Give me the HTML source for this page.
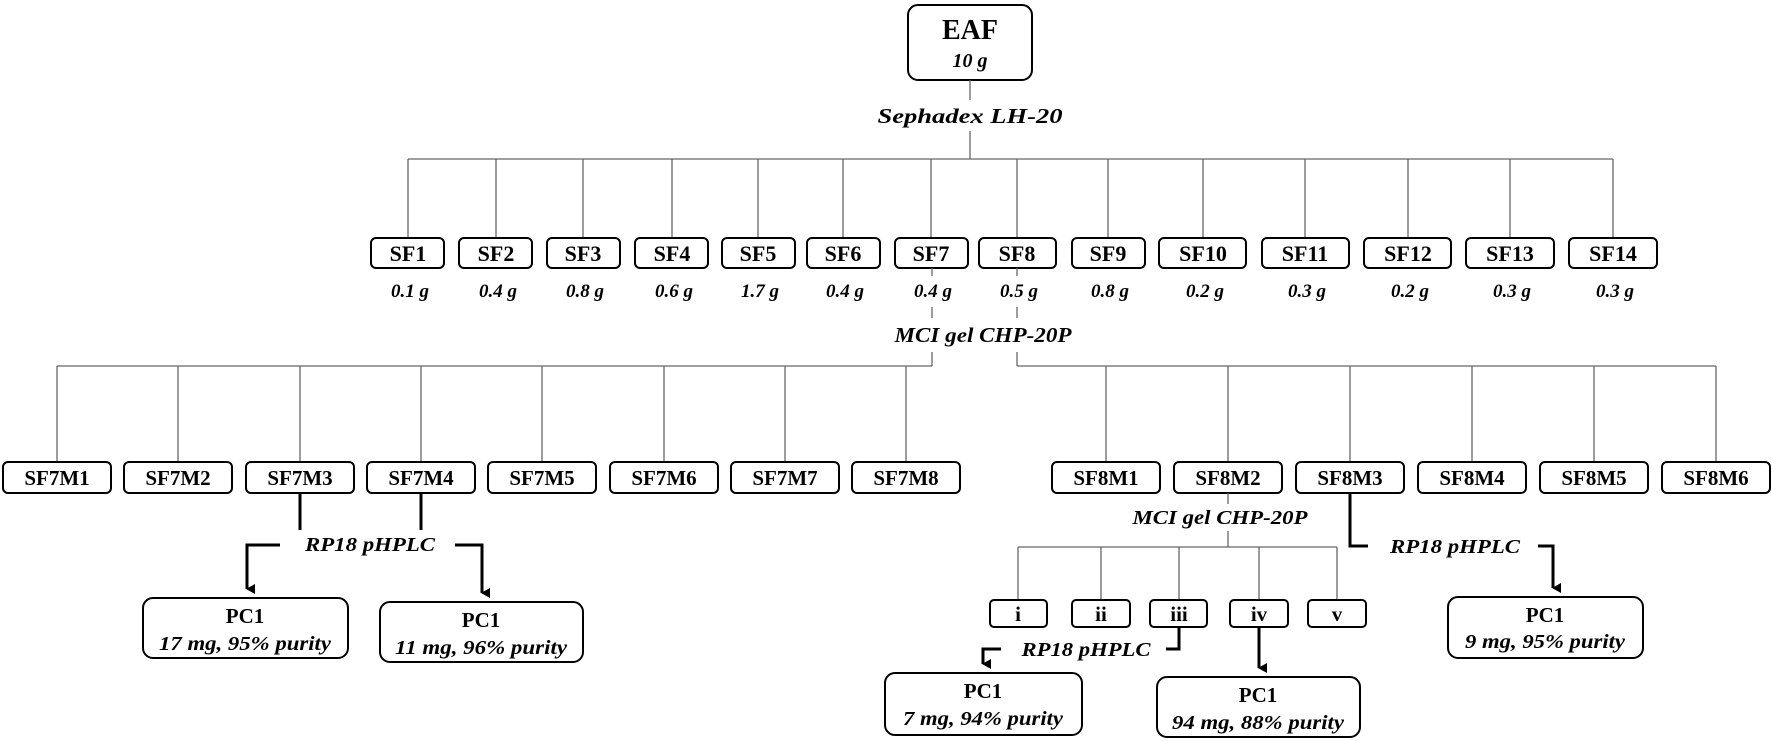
<!DOCTYPE html>
<html><head><meta charset="utf-8"><style>
html,body{margin:0;padding:0;background:#fff;}
svg{display:block;}
.b{font-family:"Liberation Serif",serif;font-weight:bold;}
.i{font-family:"Liberation Serif",serif;font-style:italic;font-weight:bold;}
.thin{stroke:#666;stroke-width:1.3;fill:none;}
.thick{stroke:#000;stroke-width:3;fill:none;}
.box{fill:#fff;stroke:#000;stroke-width:2;}
</style></head><body>
<svg width="1772" height="741" viewBox="0 0 1772 741" xmlns="http://www.w3.org/2000/svg">
<defs><marker id="ah" markerWidth="10" markerHeight="10" refX="5" refY="8" orient="auto" markerUnits="userSpaceOnUse"><path d="M0,0 L10,0 L5,9 Z" fill="#000"/></marker></defs>

<!-- EAF -->
<rect class="box" x="908" y="5" width="124" height="75" rx="10"/>
<text class="b" x="970" y="39" font-size="28" text-anchor="middle">EAF</text>
<text class="i" x="970" y="67" font-size="20" text-anchor="middle">10 g</text>
<path class="thin" d="M970 80 V100 M970 131 V159"/>
<text class="i" x="970" y="123" font-size="21" text-anchor="middle" textLength="185" lengthAdjust="spacingAndGlyphs">Sephadex LH-20</text>
<path class="thin" d="M408 159 H1613"/>

<!-- SF row -->
<g>
<path class="thin" d="M408 159V238 M496 159V238 M583 159V238 M672 159V238 M758 159V238 M843 159V238 M931 159V238 M1017 159V238 M1108 159V238 M1203 159V238 M1305 159V238 M1408 159V238 M1510 159V238 M1613 159V238"/>
<rect class="box" x="371" y="238" width="73" height="30" rx="5"/>
<rect class="box" x="459" y="238" width="73" height="30" rx="5"/>
<rect class="box" x="547" y="238" width="73" height="30" rx="5"/>
<rect class="box" x="635" y="238" width="73" height="30" rx="5"/>
<rect class="box" x="722" y="238" width="73" height="30" rx="5"/>
<rect class="box" x="807" y="238" width="73" height="30" rx="5"/>
<rect class="box" x="895" y="238" width="73" height="30" rx="5"/>
<rect class="box" x="979" y="238" width="77" height="30" rx="5"/>
<rect class="box" x="1072" y="238" width="73" height="30" rx="5"/>
<rect class="box" x="1159" y="238" width="87" height="30" rx="5"/>
<rect class="box" x="1262" y="238" width="87" height="30" rx="5"/>
<rect class="box" x="1364" y="238" width="87" height="30" rx="5"/>
<rect class="box" x="1466" y="238" width="88" height="30" rx="5"/>
<rect class="box" x="1569" y="238" width="88" height="30" rx="5"/>
<g class="b" font-size="22" text-anchor="middle">
<text x="408" y="261">SF1</text><text x="496" y="261">SF2</text><text x="583" y="261">SF3</text><text x="672" y="261">SF4</text><text x="758" y="261">SF5</text><text x="843" y="261">SF6</text><text x="931" y="261">SF7</text><text x="1017" y="261">SF8</text><text x="1108" y="261">SF9</text><text x="1203" y="261">SF10</text><text x="1305" y="261">SF11</text><text x="1408" y="261">SF12</text><text x="1510" y="261">SF13</text><text x="1613" y="261">SF14</text>
</g>
<g class="i" font-size="19" text-anchor="middle">
<text x="410" y="297">0.1 g</text><text x="498" y="297">0.4 g</text><text x="585" y="297">0.8 g</text><text x="674" y="297">0.6 g</text><text x="760" y="297">1.7 g</text><text x="845" y="297">0.4 g</text><text x="933" y="297">0.4 g</text><text x="1019" y="297">0.5 g</text><text x="1110" y="297">0.8 g</text><text x="1205" y="297">0.2 g</text><text x="1307" y="297">0.3 g</text><text x="1410" y="297">0.2 g</text><text x="1512" y="297">0.3 g</text><text x="1615" y="297">0.3 g</text>
</g>
</g>

<!-- MCI gel split -->
<path class="thin" d="M932 268V276 M932 307V318 M932 352V366 M1017 268V276 M1017 307V318 M1017 352V366"/>
<text class="i" x="983" y="342" font-size="21" text-anchor="middle" textLength="177" lengthAdjust="spacingAndGlyphs">MCI gel CHP-20P</text>
<path class="thin" d="M57 366H932 M1017 366H1716"/>
<path class="thin" d="M57 366V462 M178 366V462 M300 366V462 M421 366V462 M542 366V462 M664 366V462 M785 366V462 M906 366V462 M1106 366V462 M1228 366V462 M1350 366V462 M1472 366V462 M1594 366V462 M1716 366V462"/>
<g>
<rect class="box" x="3" y="462" width="108" height="31" rx="5"/>
<rect class="box" x="124" y="462" width="108" height="31" rx="5"/>
<rect class="box" x="246" y="462" width="108" height="31" rx="5"/>
<rect class="box" x="367" y="462" width="108" height="31" rx="5"/>
<rect class="box" x="488" y="462" width="108" height="31" rx="5"/>
<rect class="box" x="610" y="462" width="108" height="31" rx="5"/>
<rect class="box" x="731" y="462" width="108" height="31" rx="5"/>
<rect class="box" x="852" y="462" width="108" height="31" rx="5"/>
<rect class="box" x="1052" y="462" width="108" height="31" rx="5"/>
<rect class="box" x="1174" y="462" width="108" height="31" rx="5"/>
<rect class="box" x="1296" y="462" width="108" height="31" rx="5"/>
<rect class="box" x="1418" y="462" width="108" height="31" rx="5"/>
<rect class="box" x="1540" y="462" width="108" height="31" rx="5"/>
<rect class="box" x="1662" y="462" width="108" height="31" rx="5"/>
</g>
<g class="b" font-size="21" text-anchor="middle">
<text x="57" y="485">SF7M1</text><text x="178" y="485">SF7M2</text><text x="300" y="485">SF7M3</text><text x="421" y="485">SF7M4</text><text x="542" y="485">SF7M5</text><text x="664" y="485">SF7M6</text><text x="785" y="485">SF7M7</text><text x="906" y="485">SF7M8</text>
<text x="1106" y="485">SF8M1</text><text x="1228" y="485">SF8M2</text><text x="1350" y="485">SF8M3</text><text x="1472" y="485">SF8M4</text><text x="1594" y="485">SF8M5</text><text x="1716" y="485">SF8M6</text>
</g>

<!-- SF7M3/M4 RP18 -->
<path class="thick" d="M300 493V530 M421 493V530"/>
<text class="i" x="370" y="551" font-size="20" text-anchor="middle" textLength="130" lengthAdjust="spacingAndGlyphs">RP18 pHPLC</text>
<path class="thick" d="M280 545H247V589" marker-end="url(#ah)"/>
<path class="thick" d="M455 545H482V593" marker-end="url(#ah)"/>
<rect class="box" x="143" y="598" width="205" height="60" rx="10"/>
<text class="b" x="245" y="623" font-size="21" text-anchor="middle">PC1</text>
<text class="i" x="245" y="650" font-size="20" text-anchor="middle" textLength="172" lengthAdjust="spacingAndGlyphs">17 mg, 95% purity</text>
<rect class="box" x="380" y="602" width="203" height="60" rx="10"/>
<text class="b" x="481" y="627" font-size="21" text-anchor="middle">PC1</text>
<text class="i" x="481" y="654" font-size="20" text-anchor="middle" textLength="172" lengthAdjust="spacingAndGlyphs">11 mg, 96% purity</text>

<!-- SF8M2 MCI -->
<path class="thin" d="M1228 493V504 M1228 531V547 M1018 547H1337 M1018 547V600 M1101 547V600 M1179 547V600 M1259 547V600 M1337 547V600"/>
<text class="i" x="1220" y="524" font-size="20" text-anchor="middle" textLength="175" lengthAdjust="spacingAndGlyphs">MCI gel CHP-20P</text>
<rect class="box" x="990" y="600" width="57" height="27" rx="4"/>
<rect class="box" x="1072" y="600" width="58" height="27" rx="4"/>
<rect class="box" x="1150" y="600" width="57" height="27" rx="4"/>
<rect class="box" x="1230" y="600" width="58" height="27" rx="4"/>
<rect class="box" x="1308" y="600" width="58" height="27" rx="4"/>
<g class="b" font-size="21" text-anchor="middle">
<text x="1018" y="621">i</text><text x="1101" y="621">ii</text><text x="1179" y="621">iii</text><text x="1259" y="621">iv</text><text x="1337" y="621">v</text>
</g>
<path class="thick" d="M1179 627V649H1166"/>
<text class="i" x="1086" y="656" font-size="20" text-anchor="middle" textLength="129" lengthAdjust="spacingAndGlyphs">RP18 pHPLC</text>
<path class="thick" d="M1001 649H983V664" marker-end="url(#ah)"/>
<rect class="box" x="885" y="673" width="197" height="62" rx="10"/>
<text class="b" x="983" y="698" font-size="21" text-anchor="middle">PC1</text>
<text class="i" x="983" y="725" font-size="20" text-anchor="middle" textLength="160" lengthAdjust="spacingAndGlyphs">7 mg, 94% purity</text>
<path class="thick" d="M1259 627V668" marker-end="url(#ah)"/>
<rect class="box" x="1157" y="677" width="203" height="60" rx="10"/>
<text class="b" x="1258" y="702" font-size="21" text-anchor="middle">PC1</text>
<text class="i" x="1258" y="729" font-size="20" text-anchor="middle" textLength="172" lengthAdjust="spacingAndGlyphs">94 mg, 88% purity</text>

<!-- SF8M3 RP18 -->
<path class="thick" d="M1350 493V546H1368"/>
<text class="i" x="1455" y="553" font-size="20" text-anchor="middle" textLength="130" lengthAdjust="spacingAndGlyphs">RP18 pHPLC</text>
<path class="thick" d="M1538 546H1553V588" marker-end="url(#ah)"/>
<rect class="box" x="1448" y="597" width="195" height="61" rx="10"/>
<text class="b" x="1545" y="622" font-size="21" text-anchor="middle">PC1</text>
<text class="i" x="1545" y="648" font-size="20" text-anchor="middle" textLength="160" lengthAdjust="spacingAndGlyphs">9 mg, 95% purity</text>
</svg>
</body></html>
